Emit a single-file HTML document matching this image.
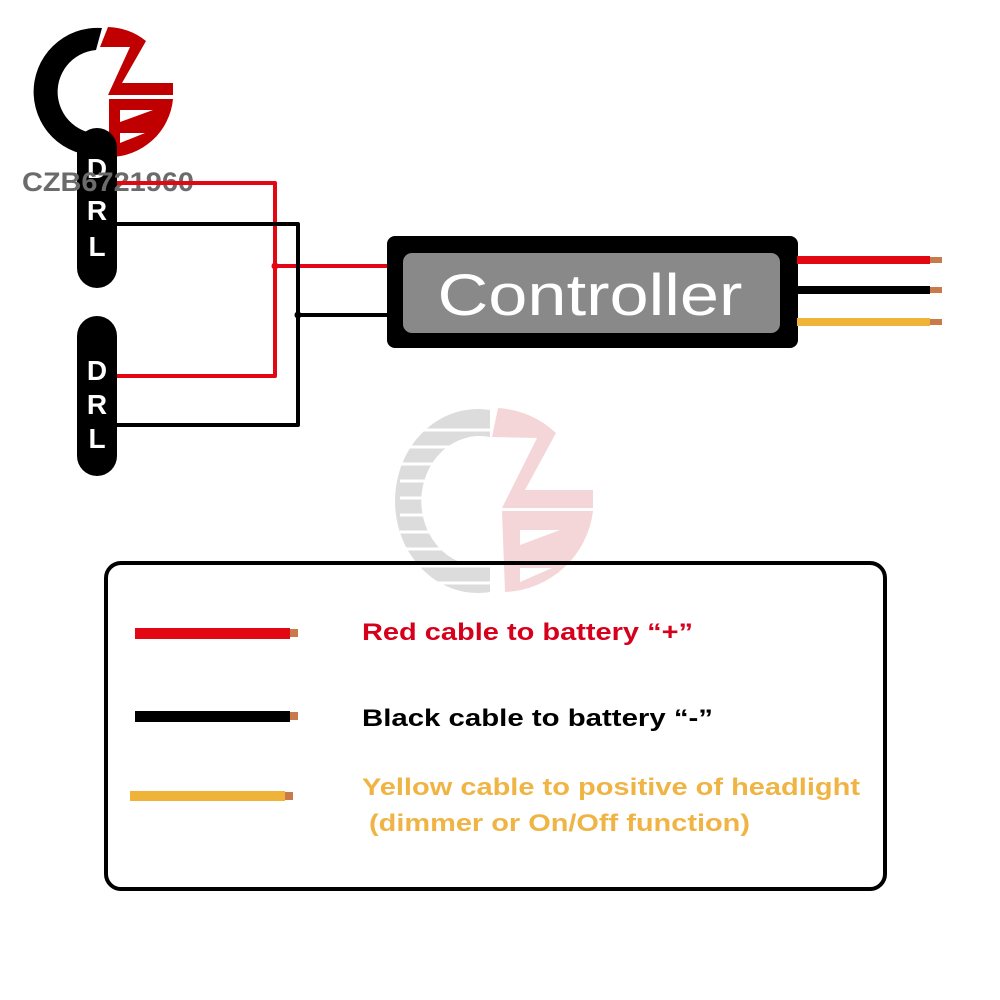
<!DOCTYPE html>
<html><head><meta charset="utf-8"><style>html,body{margin:0;padding:0;background:#fff}svg{display:block}</style></head>
<body>
<svg width="1000" height="1000" viewBox="0 0 1000 1000" xmlns="http://www.w3.org/2000/svg" font-family="Liberation Sans, Arial, sans-serif">
<rect width="1000" height="1000" fill="#fff"/>
<!-- center watermark -->
<g transform="translate(490,500) scale(0.9,1) translate(-490,-500)">
  <path d="M490,410 A92,92 0 1,0 490,592 L490,565 A65,65 0 1,1 490,437 Z" fill="#dcdcdc"/>
  <g stroke="#fff" stroke-width="3">
    <line x1="390" y1="430" x2="492" y2="430"/><line x1="390" y1="447" x2="492" y2="447"/><line x1="390" y1="464" x2="492" y2="464"/><line x1="390" y1="481" x2="492" y2="481"/><line x1="390" y1="498" x2="492" y2="498"/><line x1="390" y1="515" x2="492" y2="515"/><line x1="390" y1="532" x2="492" y2="532"/><line x1="390" y1="549" x2="492" y2="549"/><line x1="390" y1="566" x2="492" y2="566"/><line x1="390" y1="583" x2="492" y2="583"/>
  </g>
</g>
<path d="M498,408 A92,92 0 0,1 556,433 L525,490 L593,490 L593,508 L502,508 L537,438 L492,437 Z" fill="#f5d6d8"/>
<path d="M502,511 L593,511 A92,92 0 0,1 505,592 Z M520,530 L520,545 L560,530 Z M520,568 L520,582 L552,568 Z" fill="#f5d6d8" fill-rule="evenodd"/>
<!-- top logo -->
<path d="M102,28 A64,64 0 1,0 108,155 L108,133 A42,42 0 1,1 96,50 Z" fill="#000"/>
<path d="M108,27 A64,64 0 0,1 146,41 L122,83 L173,83 L173,95 L108,95 L130,47 L100,47 Z" fill="#c00000"/>
<path d="M109,99 L173,99 A64,64 0 0,1 109,157 Z M120,110 L120,122 L153,110 Z M120,133 L120,143 L145,133 Z" fill="#c00000" fill-rule="evenodd"/>
<!-- DRL pills -->
<rect x="77" y="128" width="40" height="160" rx="20" fill="#000"/>
<rect x="77" y="316" width="40" height="160" rx="20" fill="#000"/>
<g fill="#fff" font-weight="bold" font-size="28" text-anchor="middle">
  <text x="97" y="178">D</text><text x="97" y="220">R</text><text x="97" y="256">L</text>
  <text x="97" y="380">D</text><text x="97" y="414">R</text><text x="97" y="448">L</text>
</g>
<text x="22" y="191" font-size="27" font-weight="bold" fill="#6b6b6b" textLength="172" lengthAdjust="spacingAndGlyphs">CZB6721960</text>
<!-- wires -->
<g fill="none" stroke-width="4" stroke-linejoin="round">
  <path d="M117,183 H275 V376 H117" stroke="#e30613"/>
  <path d="M275,266 H388" stroke="#e30613"/>
  <path d="M117,224 H298 V425 H117" stroke="#000"/>
  <path d="M298,315 H388" stroke="#000"/>
</g>
<circle cx="275" cy="266" r="3.5" fill="#e30613"/>
<circle cx="298" cy="315" r="3.5" fill="#000"/>
<!-- controller -->
<rect x="387" y="236" width="411" height="112" rx="8" fill="#000"/>
<rect x="403" y="253" width="377" height="80" rx="9" fill="#898989"/>
<text x="590" y="315" text-anchor="middle" font-size="58" fill="#fff" textLength="305" lengthAdjust="spacingAndGlyphs">Controller</text>
<rect x="797" y="256" width="133" height="8" fill="#e30613"/>
<rect x="797" y="286" width="133" height="8" fill="#000"/>
<rect x="797" y="318" width="133" height="8" fill="#f0b33a"/>
<rect x="930" y="257" width="12" height="6" fill="#c87a4a"/>
<rect x="930" y="287" width="12" height="6" fill="#c87a4a"/>
<rect x="930" y="319" width="12" height="6" fill="#c87a4a"/>
<!-- legend -->
<rect x="106" y="563" width="779" height="326" rx="15" fill="none" stroke="#000" stroke-width="4"/>
<rect x="135" y="628" width="155" height="11" fill="#e30613"/><rect x="290" y="629" width="8" height="8" fill="#c87a4a"/>
<rect x="135" y="711" width="155" height="11" fill="#000"/><rect x="290" y="712" width="8" height="8" fill="#c87a4a"/>
<rect x="130" y="791" width="155" height="10" fill="#f0b33a"/><rect x="285" y="792" width="8" height="8" fill="#c87a4a"/>
<g font-weight="bold" font-size="24">
  <text x="362" y="640" fill="#d6001c" textLength="331" lengthAdjust="spacingAndGlyphs">Red cable to battery “+”</text>
  <text x="362" y="726" fill="#000" textLength="351" lengthAdjust="spacingAndGlyphs">Black cable to battery “-”</text>
  <text x="362" y="795" fill="#efb444" textLength="498" lengthAdjust="spacingAndGlyphs">Yellow cable to positive of headlight</text>
  <text x="369" y="831" fill="#efb444" textLength="381" lengthAdjust="spacingAndGlyphs">(dimmer or On/Off function)</text>
</g>
</svg>
</body></html>
